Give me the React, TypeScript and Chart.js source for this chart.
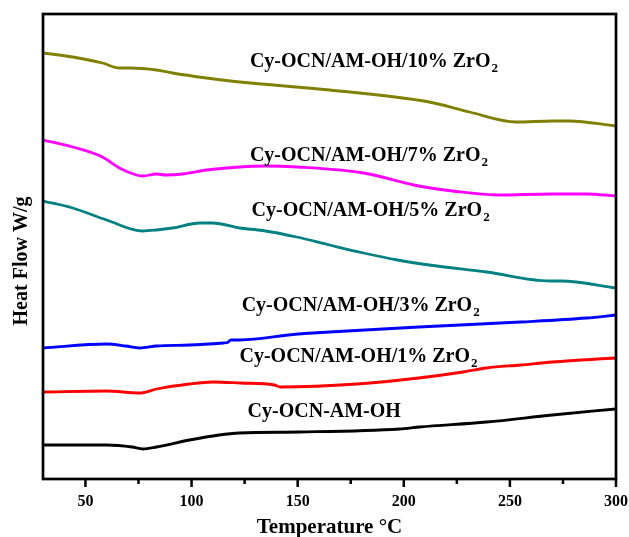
import React, { useEffect, useRef } from "react";
import { Chart, registerables } from "chart.js";

Chart.register(...registerables);

// x: temperature (°C), y: heat flow (arbitrary offset units)
const olT = [30, 44, 58, 66, 71, 83.5, 91, 107, 122.6, 165, 212, 231, 253, 270, 278, 300];
const olV = [43.0, 42.6, 42.0, 41.5, 41.5, 41.3, 41.0, 40.5, 40.1, 39.3, 38.1, 37.1, 36.1, 36.2, 36.2, 35.7];

const pkT = [30, 44, 58, 66, 74, 77, 83.5, 88, 96, 107, 122.6, 135, 150, 181, 207, 223, 244, 270, 286, 300];
const pkV = [34.3, 33.6, 32.6, 31.5, 30.8, 30.7, 30.9, 30.8, 30.9, 31.3, 31.6, 31.7, 31.6, 31.0, 29.7, 29.2, 28.8, 28.9, 28.9, 28.7];

const tlT = [30, 44, 60, 77, 83.5, 91, 104, 110, 122.6, 133.5, 149.5, 165, 181, 197, 212, 239, 269, 274, 300];
const tlV = [28.2, 27.5, 26.3, 25.2, 25.3, 25.5, 26.0, 26.0, 25.5, 25.25, 24.6, 23.8, 23.0, 22.3, 21.8, 21.1, 20.2, 20.2, 19.5];

const blT = [30, 60, 69, 75.5, 83.5, 99, 115, 117, 118.5, 122.6, 150, 165, 207, 255, 286, 300];
const blV = [13.5, 13.9, 13.7, 13.5, 13.7, 13.8, 14.0, 14.05, 14.3, 14.3, 14.9, 15.1, 15.6, 16.1, 16.5, 16.8];

const rdT = [30, 60, 75.5, 83.5, 99, 110, 123, 139, 142, 178, 207, 228, 239, 255, 270, 300];
const rdV = [9.1, 9.2, 9.0, 9.4, 9.9, 10.1, 10.0, 9.8, 9.6, 9.9, 10.5, 11.1, 11.5, 11.8, 12.1, 12.5];

const bkT = [30, 60, 72, 77, 83.5, 99, 113, 122.6, 151, 198, 207.5, 239, 270, 300];
const bkV = [3.8, 3.8, 3.6, 3.4, 3.6, 4.3, 4.8, 5.0, 5.1, 5.4, 5.6, 6.1, 6.8, 7.4];

const seriesNames = [
  "Cy-OCN/AM-OH/10% ZrO2",
  "Cy-OCN/AM-OH/7% ZrO2",
  "Cy-OCN/AM-OH/5% ZrO2",
  "Cy-OCN/AM-OH/3% ZrO2",
  "Cy-OCN/AM-OH/1% ZrO2",
  "Cy-OCN-AM-OH",
];
const seriesColors = ["#808000", "#ff00ff", "#008080", "#0000ff", "#ff0000", "#000000"];

// label texts (main part, subscript) and anchor (data coords)
const labelMain = [
  "Cy-OCN/AM-OH/10% ZrO",
  "Cy-OCN/AM-OH/7% ZrO",
  "Cy-OCN/AM-OH/5% ZrO",
  "Cy-OCN/AM-OH/3% ZrO",
  "Cy-OCN/AM-OH/1% ZrO",
  "Cy-OCN-AM-OH",
];
const labelSub = ["2", "2", "2", "2", "2", ""];
const labelX = [127.5, 127.5, 128.3, 123.6, 122.6, 126.4];
const labelY = [41.6, 32.2, 26.7, 17.2, 12.1, 6.6];

const xTicks = [50, 100, 150, 200, 250, 300];
const xMinorTicks = [75, 125, 175, 225, 275];

const FONT = '"Liberation Serif", "Times New Roman", serif';

const pairs = (t: number[], v: number[]) => t.map((x, i) => ({ x, y: v[i] }));

export default function App() {
  const ref = useRef<HTMLCanvasElement | null>(null);

  useEffect(() => {
    if (!ref.current) return;
    const allT = [olT, pkT, tlT, blT, rdT, bkT];
    const allV = [olV, pkV, tlV, blV, rdV, bkV];

    const overlay = {
      id: "overlay",
      afterDatasetsDraw(chart: any) {
        const { ctx, chartArea, scales } = chart;
        const x = scales.x;
        const y = scales.y;
        ctx.save();
        // frame
        ctx.strokeStyle = "#000";
        ctx.lineWidth = 2.7;
        ctx.strokeRect(chartArea.left, chartArea.top, chartArea.right - chartArea.left, chartArea.bottom - chartArea.top);
        // tick marks (outward)
        ctx.lineWidth = 2.5;
        ctx.beginPath();
        xTicks.forEach((v) => {
          const px = x.getPixelForValue(v);
          ctx.moveTo(px, chartArea.bottom);
          ctx.lineTo(px, chartArea.bottom + 8);
        });
        xMinorTicks.forEach((v) => {
          const px = x.getPixelForValue(v);
          ctx.moveTo(px, chartArea.bottom);
          ctx.lineTo(px, chartArea.bottom + 5);
        });
        ctx.stroke();
        // series labels
        ctx.fillStyle = "#000";
        ctx.textAlign = "left";
        ctx.textBaseline = "alphabetic";
        labelMain.forEach((txt, i) => {
          const px = x.getPixelForValue(labelX[i]);
          const py = y.getPixelForValue(labelY[i]);
          ctx.font = `bold 20px ${FONT}`;
          ctx.fillText(txt, px, py);
          if (labelSub[i]) {
            const w = ctx.measureText(txt).width;
            ctx.font = `bold 13px ${FONT}`;
            ctx.fillText(labelSub[i], px + w + 1, py + 5);
          }
        });
        // y title
        ctx.translate(22, 261);
        ctx.rotate(-Math.PI / 2);
        ctx.textAlign = "center";
        ctx.textBaseline = "middle";
        ctx.font = `bold 20px ${FONT}`;
        ctx.fillText("Heat Flow W/g", 0, 0);
        ctx.restore();
      },
    };

    const chart = new Chart(ref.current, {
      type: "line",
      data: {
        datasets: seriesNames.map((name, i) => ({
          label: name,
          data: pairs(allT[i], allV[i]),
          borderColor: seriesColors[i],
          backgroundColor: seriesColors[i],
          borderWidth: 2.8,
          pointRadius: 0,
          fill: false,
          cubicInterpolationMode: "monotone" as const,
        })),
      },
      options: {
        animation: false,
        responsive: false,
        events: [],
        layout: { padding: { top: 14, right: 13, left: 0, bottom: 0 } },
        plugins: { legend: { display: false }, tooltip: { enabled: false } },
        scales: {
          x: {
            type: "linear",
            min: 30,
            max: 300,
            afterBuildTicks: (s: any) => {
              s.ticks = xTicks.map((v) => ({ value: v }));
            },
            afterFit: (s: any) => {
              s.height = 58;
            },
            grid: { display: false, drawTicks: true, tickLength: 13 },
            border: { display: false },
            ticks: {
              color: "#000",
              padding: 0,
              maxRotation: 0,
              autoSkip: false,
              font: { family: FONT, size: 16, weight: "bold" },
            },
            title: {
              display: true,
              text: "Temperature °C",
              color: "#000",
              padding: { top: 0, bottom: -3 },
              font: { family: FONT, size: 21, weight: "bold" },
            },
          },
          y: {
            type: "linear",
            min: 0.4,
            max: 46.9,
            afterFit: (s: any) => {
              s.width = 43;
            },
            grid: { display: false },
            border: { display: false },
            ticks: { display: false },
          },
        },
      },
      plugins: [overlay],
    });
    return () => chart.destroy();
  }, []);

  return (
    <div style={{ position: "fixed", left: 0, top: 0, width: 629, height: 537, background: "#fff" }}>
      <canvas ref={ref} width={629} height={537} />
    </div>
  );
}
